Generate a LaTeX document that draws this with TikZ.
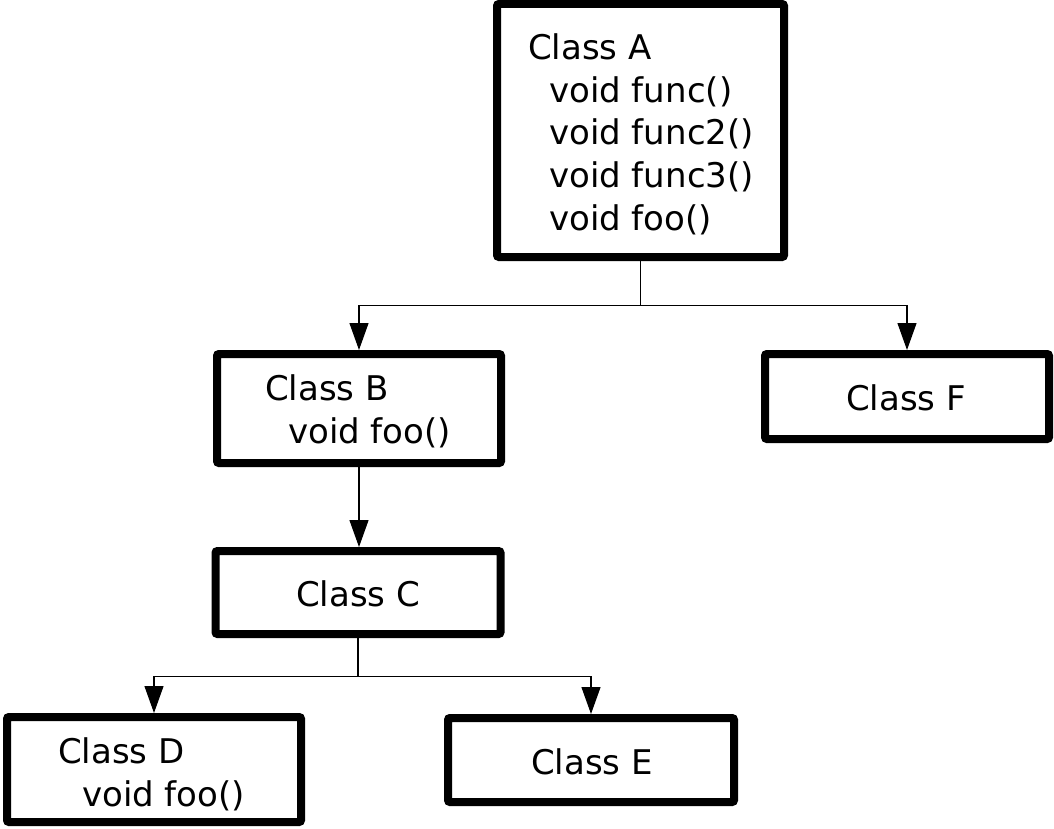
\documentclass[tikz,border=0pt]{standalone}
\usepackage{fontspec}
\setmainfont{DejaVu Sans}
\usetikzlibrary{arrows.meta}
\begin{document}
\begin{tikzpicture}[x=1pt,y=-1pt,
  classbox/.style={draw=black,line width=8pt,rounded corners=2pt,fill=white,
    rectangle,inner sep=0pt},
  txt/.style={inner sep=0pt,font=\fontsize{34}{40}\selectfont},
  link/.style={draw=black,line width=1.2pt},
  inherit/.style={link,-{Triangle[length=27pt,width=19pt]}}]
\useasboundingbox[fill=white] (0,0) rectangle (1054,829);

% class boxes
\node[classbox,minimum width=287pt,minimum height=253pt] (A) at (640.5,130.5) {};
\node[classbox,minimum width=284pt,minimum height=109pt] (B) at (359,408.5) {};
\node[classbox,minimum width=284pt,minimum height=85pt]  (F) at (907,396.5) {};
\node[classbox,minimum width=285pt,minimum height=83pt]  (C) at (358,592.5) {};
\node[classbox,minimum width=294pt,minimum height=105pt] (D) at (154,769.5) {};
\node[classbox,minimum width=286pt,minimum height=84pt]  (E) at (591,760) {};

% class names and methods
\node[txt,anchor=base west] (a0) at (528,60) {Class A};
\node[txt,anchor=base west] (a1) at (549,102.5) {void func()};
\node[txt,anchor=base west] (a2) at (549,145) {void func2()};
\node[txt,anchor=base west] (a3) at (549,188) {void func3()};
\node[txt,anchor=base west] (a4) at (549,230) {void foo()};

\node[txt,anchor=base west] (b0) at (265,400) {Class B};
\node[txt,anchor=base west] (b1) at (288,443) {void foo()};

\node[txt,anchor=base] (f0) at (906,410.7) {Class F};
\node[txt,anchor=base] (c0) at (358,606.7) {Class C};
\node[txt,anchor=base] (e0) at (592,774) {Class E};

\node[txt,anchor=base west] (d0) at (58,763) {Class D};
\node[txt,anchor=base west] (d1) at (82,806.5) {void foo()};

% inheritance connectors
\coordinate (ja) at (A.south |- 0,305.5);
\coordinate (jc) at (C.south |- 0,676.5);

\draw[link] (A.south) -- (ja);
\draw[inherit] (ja) -| (B.north);
\draw[inherit] (ja) -| (F.north);
\draw[inherit] (B.south) -- (B.south |- C.north);
\draw[link] (C.south) -- (jc);
\draw[inherit] (jc) -| (D.north);
\draw[inherit] (jc) -| (E.north);
\end{tikzpicture}
\end{document}
